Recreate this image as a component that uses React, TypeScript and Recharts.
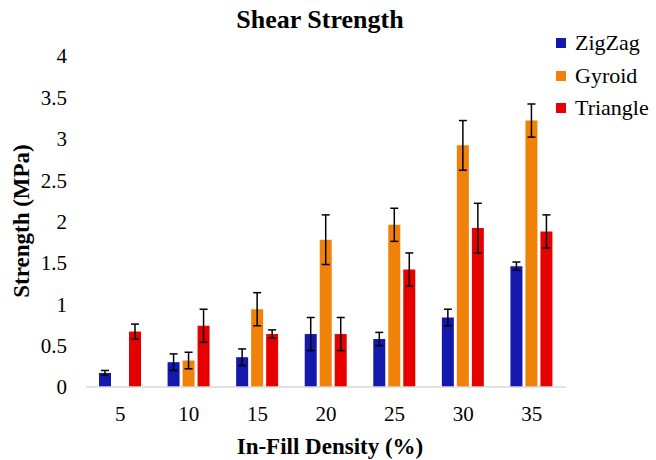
import React from "react";
import { BarChart, Bar, XAxis, YAxis, ErrorBar } from "recharts";

// Infill densities (%)
const densities = ["5", "10", "15", "20", "25", "30", "35"];

// Mean shear strength (MPa) per pattern
const zigzag = [0.17, 0.3, 0.36, 0.64, 0.58, 0.84, 1.46];
const gyroid = [null, 0.32, 0.94, 1.78, 1.96, 2.92, 3.22];
const triangle = [0.67, 0.74, 0.64, 0.64, 1.42, 1.92, 1.88];

// Error bar half-widths (MPa)
const zigzagErr = [0.03, 0.1, 0.1, 0.2, 0.08, 0.1, 0.05];
const gyroidErr = [null, 0.1, 0.2, 0.3, 0.2, 0.3, 0.2];
const triangleErr = [0.09, 0.2, 0.05, 0.2, 0.2, 0.3, 0.2];

const yTicks = [0, 0.5, 1, 1.5, 2, 2.5, 3, 3.5, 4];

const COLORS = { zigzag: "#1418AC", gyroid: "#F0820A", triangle: "#E60000" };
const FONT = '"Liberation Serif", "Times New Roman", serif';

const data = densities.map((d, i) => ({
  density: d,
  zigzag: zigzag[i],
  gyroid: gyroid[i],
  triangle: triangle[i],
  zigzagErr: zigzagErr[i],
  gyroidErr: gyroidErr[i],
  triangleErr: triangleErr[i],
}));

const legendItems = [
  { name: "ZigZag", color: COLORS.zigzag },
  { name: "Gyroid", color: COLORS.gyroid },
  { name: "Triangle", color: COLORS.triangle },
];

const App: React.FC = () => {
  const tickStyle = { fontFamily: FONT, fontSize: 21, fill: "#000" };
  return (
    <div style={{ position: "absolute", left: 0, top: 0, width: 656, height: 460, background: "#fff", fontFamily: FONT }}>
      <BarChart
        width={656}
        height={460}
        data={data}
        margin={{ top: 56, right: 90, bottom: 0, left: 26 }}
        barSize={12}
        barGap={3}
      >
        <XAxis
          dataKey="density"
          height={73}
          tickLine={false}
          tickSize={0}
          tickMargin={19}
          axisLine={{ stroke: "#d9d9d9", strokeWidth: 1.5 }}
          tick={tickStyle}
        />
        <YAxis
          width={60}
          domain={[0, 4]}
          ticks={yTicks}
          interval={0}
          axisLine={false}
          tickLine={false}
          tickSize={0}
          tickMargin={19}
          tick={tickStyle}
        />
        <Bar dataKey="zigzag" fill={COLORS.zigzag} isAnimationActive={false}>
          <ErrorBar dataKey="zigzagErr" width={4} stroke="#000" strokeWidth={1.5} direction="y" />
        </Bar>
        <Bar dataKey="gyroid" fill={COLORS.gyroid} isAnimationActive={false}>
          <ErrorBar dataKey="gyroidErr" width={4} stroke="#000" strokeWidth={1.5} direction="y" />
        </Bar>
        <Bar dataKey="triangle" fill={COLORS.triangle} isAnimationActive={false}>
          <ErrorBar dataKey="triangleErr" width={4} stroke="#000" strokeWidth={1.5} direction="y" />
        </Bar>
      </BarChart>

      {/* title */}
      <div
        style={{
          position: "absolute", left: 320, top: 20, transform: "translate(-50%, -50%)",
          fontWeight: "bold", fontSize: 26, whiteSpace: "nowrap",
        }}
      >
        Shear Strength
      </div>

      {/* y axis title */}
      <div
        style={{
          position: "absolute", left: 22, top: 221, transform: "translate(-50%, -50%) rotate(-90deg)",
          fontWeight: "bold", fontSize: 23, whiteSpace: "nowrap",
        }}
      >
        Strength (MPa)
      </div>

      {/* x axis title */}
      <div
        style={{
          position: "absolute", left: 330, top: 447, transform: "translate(-50%, -50%)",
          fontWeight: "bold", fontSize: 23, whiteSpace: "nowrap",
        }}
      >
        In-Fill Density (%)
      </div>

      {/* legend */}
      <div style={{ position: "absolute", left: 556, top: 27 }}>
        {legendItems.map((it) => (
          <div key={it.name} style={{ display: "flex", alignItems: "center", height: 32.5, fontSize: 22 }}>
            <span style={{ display: "inline-block", width: 10, height: 10, background: it.color, marginRight: 9 }} />
            <span>{it.name}</span>
          </div>
        ))}
      </div>
    </div>
  );
};

export default App;
